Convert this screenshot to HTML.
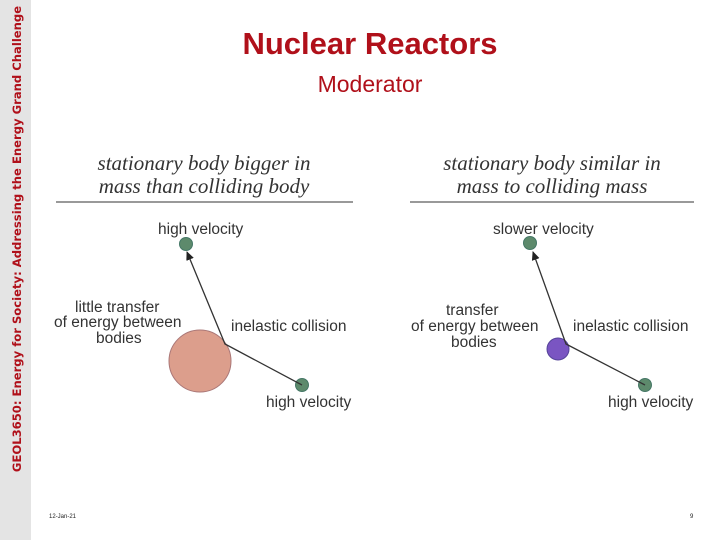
<!DOCTYPE html><html><head><style>
body{margin:0;width:720px;height:540px;background:#fff;position:relative;overflow:hidden;font-family:"Liberation Sans",sans-serif}
.side{position:absolute;left:0;top:0;width:31px;height:540px;background:#e4e4e4}
.vt{position:absolute;left:17px;top:239px;transform:translate(-50%,-50%) rotate(-90deg);white-space:nowrap;color:#b0101a;font-weight:bold;font-size:11.6px;font-family:"DejaVu Sans",sans-serif}
.t{position:absolute;white-space:nowrap}
</style></head><body>
<div class="side"><div class="vt">GEOL3650: Energy for Society: Addressing the Energy Grand Challenge</div></div>
<div class="t" style="left:0;width:740px;text-align:center;top:26px;font-size:31px;font-weight:bold;color:#b0101a">Nuclear Reactors</div>
<div class="t" style="left:0;width:740px;text-align:center;top:71px;font-size:23px;color:#b0101a">Moderator</div>
<svg width="720" height="540" style="position:absolute;left:0;top:0" font-family="Liberation Sans, sans-serif">
<defs><marker id="a" markerWidth="10" markerHeight="10" refX="8" refY="4" orient="auto" markerUnits="userSpaceOnUse"><path d="M0,0 L9,4 L0,8 Z" fill="#222"/></marker></defs>
<g font-family="Liberation Serif, serif" font-style="italic" font-size="21" fill="#333" text-anchor="middle">
<text x="204" y="170">stationary body bigger in</text><text x="204" y="193">mass than colliding body</text>
<text x="552" y="170">stationary body similar in</text><text x="552" y="193">mass to colliding mass</text></g>
<line x1="56" y1="202" x2="353" y2="202" stroke="#333"/>
<line x1="410" y1="202" x2="694" y2="202" stroke="#333"/>
<g font-size="15.5" fill="#333">
<text x="158" y="234">high velocity</text>
<text x="75" y="312">little transfer</text><text x="54" y="327">of energy between</text><text x="96" y="343">bodies</text>
<text x="231" y="331">inelastic collision</text>
<text x="266" y="407">high velocity</text>
<text x="493" y="234">slower velocity</text>
<text x="446" y="315">transfer</text><text x="411" y="331">of energy between</text><text x="451" y="347">bodies</text>
<text x="573" y="331">inelastic collision</text>
<text x="608" y="407">high velocity</text></g>
<circle cx="200" cy="361" r="31" fill="#dc9e8c" stroke="#a77" stroke-width="1"/>
<circle cx="186" cy="244" r="6.5" fill="#5d8a6c" stroke="#476"/>
<circle cx="302" cy="385" r="6.5" fill="#5d8a6c" stroke="#476"/>
<polyline points="302,385 225,344 187,252" fill="none" stroke="#333" stroke-width="1.3" marker-end="url(#a)"/>
<circle cx="558" cy="349" r="11" fill="#7a55c2" stroke="#549"/>
<circle cx="530" cy="243" r="6.5" fill="#5d8a6c" stroke="#476"/>
<circle cx="645" cy="385" r="6.5" fill="#5d8a6c" stroke="#476"/>
<polyline points="645,385 566,344 533,252" fill="none" stroke="#333" stroke-width="1.3" marker-end="url(#a)"/>
<text x="49" y="518" font-size="6" fill="#222">12-Jan-21</text>
<text x="690" y="518" font-size="6" fill="#222">9</text>
</svg>
</body></html>
